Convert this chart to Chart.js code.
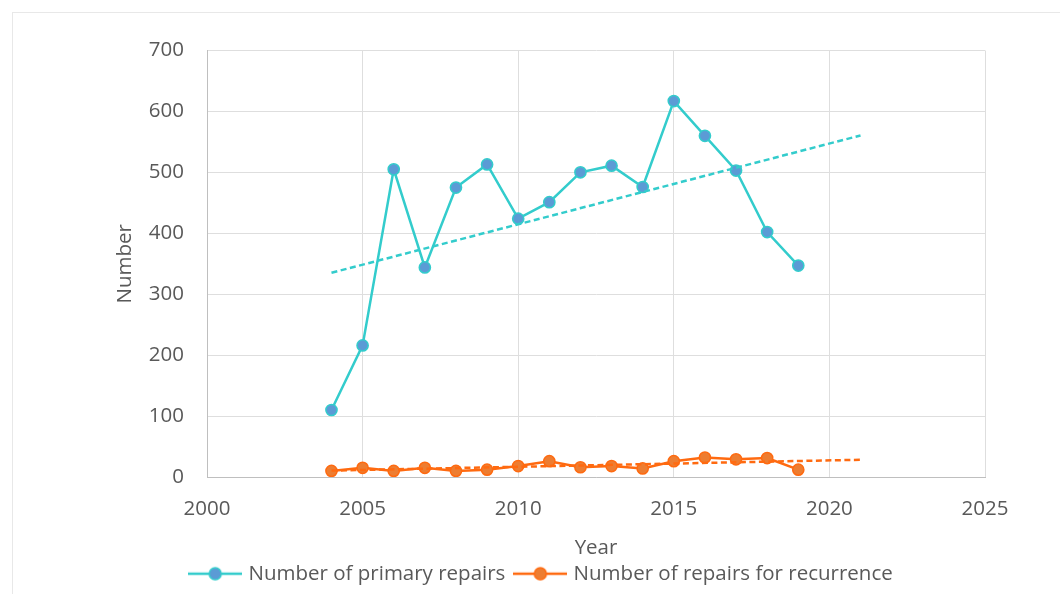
<!DOCTYPE html>
<html>
<head>
<meta charset="utf-8">
<script src="https://cdn.jsdelivr.net/npm/chart.js@4/dist/chart.umd.min.js"></script>
<style>
  html, body { margin: 0; padding: 0; background: #ffffff; }
  #frame { position: absolute; left: 12px; top: 12px; width: 1100px; height: 700px;
           border-left: 1.5px solid #e8e8e8; border-top: 1.5px solid #e8e8e8; z-index: 0; }
  #wrap { position: absolute; left: 0; top: 0; width: 1060px; height: 594px; z-index: 1; }
</style>
</head>
<body>
<div id="frame"></div>
<div id="wrap"><canvas id="c" width="1060" height="594"></canvas></div>
<script>
// ---- data ----
const years = [2004, 2005, 2006, 2007, 2008, 2009, 2010, 2011, 2012, 2013, 2014, 2015, 2016, 2017, 2018, 2019];
const primaryRepairs = [110, 216, 505, 344, 475, 513, 424, 451, 500, 511, 476, 617, 560, 503, 402, 347];
const recurrenceRepairs = [10, 15, 10, 15, 10, 12, 18, 26, 16, 18, 14, 26, 32, 29, 31, 12];
const seriesNames = ['Number of primary repairs', 'Number of repairs for recurrence'];
const trendForwardYears = 2;
const xTickMin = 2000, xTickMax = 2025, xStep = 5;
const yTickMin = 0, yTickMax = 700, yStep = 100;

// ---- styles ----
const TEAL = '#33CCCC', BLUE = '#5B9BD5';
const ORANGE_LINE = '#FF6A10', ORANGE_PT = '#ED7D31';
const TEXT = '#595959';
const FONT = "'Open Sans', 'Liberation Sans', sans-serif";

function toPoints(xs, ys) { return xs.map((x, i) => ({ x: x, y: ys[i] })); }

// Linear least-squares trendline (as in the spreadsheet's linear trendline)
function trend(xs, ys, forward) {
  const n = xs.length;
  const mx = xs.reduce((a, b) => a + b, 0) / n;
  const my = ys.reduce((a, b) => a + b, 0) / n;
  let sxy = 0, sxx = 0;
  for (let i = 0; i < n; i++) { sxy += (xs[i] - mx) * (ys[i] - my); sxx += (xs[i] - mx) ** 2; }
  const b = sxy / sxx, a = my - b * mx;
  const x0 = xs[0], x1 = xs[n - 1] + forward;
  return [{ x: x0, y: a + b * x0 }, { x: x1, y: a + b * x1 }];
}

function legendIcon(lineColor, fillColor) {
  const c = document.createElement('canvas');
  c.width = 54; c.height = 16;
  const g = c.getContext('2d');
  g.strokeStyle = lineColor; g.lineWidth = 2.5;
  g.beginPath(); g.moveTo(0, 8); g.lineTo(54, 8); g.stroke();
  g.beginPath(); g.arc(27, 8, 6, 0, Math.PI * 2);
  g.fillStyle = fillColor; g.fill();
  g.lineWidth = 1.5; g.strokeStyle = lineColor; g.stroke();
  return c;
}
const icons = [legendIcon(TEAL, BLUE), legendIcon(ORANGE_LINE, ORANGE_PT)];

const data = {
  datasets: [
    {
      label: seriesNames[0],
      data: toPoints(years, primaryRepairs),
      borderColor: TEAL, backgroundColor: BLUE,
      borderWidth: 2.5, pointRadius: 5.6, pointBorderWidth: 1.5,
      pointBackgroundColor: BLUE, pointBorderColor: TEAL, order: 2
    },
    {
      label: seriesNames[1],
      data: toPoints(years, recurrenceRepairs),
      borderColor: ORANGE_LINE, backgroundColor: ORANGE_PT,
      borderWidth: 2.5, pointRadius: 5.6, pointBorderWidth: 1.5,
      pointBackgroundColor: ORANGE_PT, pointBorderColor: ORANGE_LINE, order: 2
    },
    {
      label: 'trend1', data: trend(years, primaryRepairs, trendForwardYears),
      borderColor: TEAL, borderWidth: 2.5, borderDash: [6, 3.5], pointRadius: 0, order: 1
    },
    {
      label: 'trend2', data: trend(years, recurrenceRepairs, trendForwardYears),
      borderColor: ORANGE_LINE, borderWidth: 2.5, borderDash: [6, 3.5], pointRadius: 0, order: 1
    }
  ]
};

new Chart(document.getElementById('c'), {
  type: 'line',
  data: data,
  options: {
    responsive: false,
    animation: false,
    devicePixelRatio: 1,
    layout: { padding: { left: 100, right: 75, top: 50.5, bottom: 0 } },
    plugins: {
      tooltip: { enabled: false },
      legend: {
        position: 'bottom',
        labels: {
          usePointStyle: true,
          pointStyleWidth: 46,
          padding: 12,
          color: TEXT,
          font: { family: FONT, size: 20.5 },
          filter: (item) => item.datasetIndex < 2,
          generateLabels: (chart) => chart.data.datasets.slice(0, 2).map((ds, i) => ({
            text: ds.label, pointStyle: icons[i], fillStyle: 'transparent',
            strokeStyle: 'transparent', lineWidth: 0, datasetIndex: i, fontColor: TEXT
          }))
        }
      }
    },
    scales: {
      x: {
        type: 'linear',
        min: xTickMin, max: xTickMax,
        afterFit: (s) => { s.height = 74.5; },
        ticks: {
          stepSize: xStep, color: TEXT, padding: 20, maxRotation: 0,
          font: { family: FONT, size: 20.5 },
          callback: (v) => String(v)
        },
        grid: { color: '#dedede', lineWidth: 1, drawTicks: false },
        border: { color: '#bfbfbf', width: 1 },
        title: {
          display: true, text: 'Year', color: TEXT,
          font: { family: FONT, size: 20.5, lineHeight: 0.5 },
          padding: { top: 0, bottom: -1.5 }
        }
      },
      y: {
        min: yTickMin, max: yTickMax,
        afterFit: (s) => { s.width = 107; },
        ticks: {
          stepSize: yStep, color: TEXT, padding: 23,
          font: { family: FONT, size: 20.5 }
        },
        grid: { color: '#dedede', lineWidth: 1, drawTicks: false },
        border: { color: '#bfbfbf', width: 1 },
        title: {
          display: true, text: 'Number', color: TEXT,
          font: { family: FONT, size: 20.5, lineHeight: 1 },
          padding: { top: 14.75, bottom: 0 }
        }
      }
    }
  }
});
</script>
</body>
</html>
